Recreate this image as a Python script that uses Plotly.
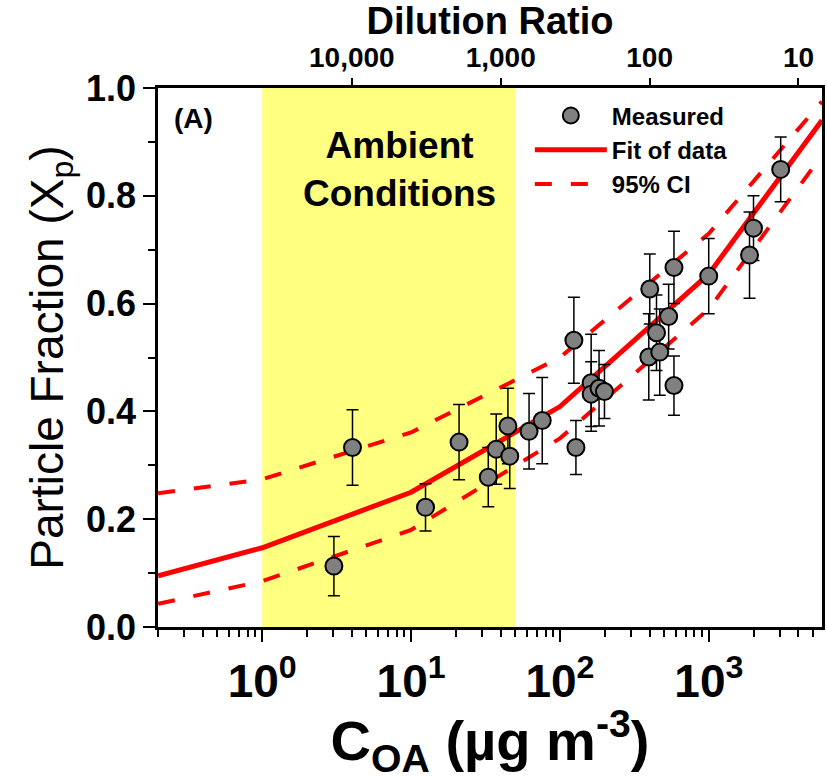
import plotly.graph_objects as go

# ---------------- data ----------------
c_oa = [3.03, 4.04, 12.5, 21, 33, 37.3, 44.7, 46, 62, 76,
        124, 128, 162, 162, 183, 199,
        395, 401, 445, 468, 537, 583, 583, 998, 1876, 1995, 3037]
xp = [0.113, 0.333, 0.222, 0.343, 0.278, 0.330, 0.373, 0.317, 0.363, 0.383,
      0.532, 0.333, 0.453, 0.432, 0.443, 0.437,
      0.501, 0.627, 0.546, 0.510, 0.576, 0.667, 0.448, 0.651, 0.690, 0.740, 0.849]
xp_err = [0.055, 0.07, 0.044, 0.07, 0.055, 0.065, 0.07, 0.06, 0.07, 0.08,
          0.08, 0.05, 0.09, 0.06, 0.07, 0.05,
          0.08, 0.065, 0.07, 0.08, 0.06, 0.067, 0.055, 0.07, 0.08, 0.06, 0.06]

fit_c = [0.2, 1, 10, 100, 1000, 5750]
fit_xp = [0.095, 0.147, 0.25, 0.409, 0.655, 0.94]
ci_upper = [0.248, 0.274, 0.361, 0.50, 0.73, 0.975]
ci_lower = [0.043, 0.085, 0.18, 0.35, 0.59, 0.875]

ambient_c = [1, 50]          # ambient conditions range of C_OA
dilution_ticks = [10000, 1000, 100, 10]
dilution_labels = ["10,000", "1,000", "100", "10"]
dilution_k = 40000           # C_OA at dilution ratio of 1

x_ticks = [1, 10, 100, 1000]
x_ticklabels = ["10<sup>0</sup>", "10<sup>1</sup>", "10<sup>2</sup>", "10<sup>3</sup>"]
x_range_log = [-0.7, 3.76]

# ---------------- styling ----------------
SANS = "Liberation Sans, Arial, sans-serif"
RED = "#FF0000"

fig = go.Figure()

# ambient shading (bottom axis layer, below data)
fig.add_trace(go.Scatter(
    x=[ambient_c[0], ambient_c[1], ambient_c[1], ambient_c[0], ambient_c[0]],
    y=[0, 0, 1, 1, 0], mode="lines", fill="toself", xaxis="x", yaxis="y",
    fillcolor="#FFFF80", line=dict(width=0), showlegend=False, hoverinfo="skip"))

# data layer on the twin C_OA axis (same scale, drawn on top of the shading)
fig.add_trace(go.Scatter(
    x=fit_c, y=ci_upper, mode="lines", name="95% CI", legendrank=3, xaxis="x2",
    line=dict(color=RED, width=4, dash="17px,19px")))
fig.add_trace(go.Scatter(
    x=fit_c, y=ci_lower, mode="lines", name="95% CI lower", showlegend=False, xaxis="x2",
    line=dict(color=RED, width=4, dash="17px,19px")))
fig.add_trace(go.Scatter(
    x=fit_c, y=fit_xp, mode="lines", name="Fit of data", legendrank=2, xaxis="x2",
    line=dict(color=RED, width=5)))
fig.add_trace(go.Scatter(
    x=c_oa, y=xp, mode="markers", name="Measured", legendrank=1, xaxis="x2",
    marker=dict(size=17, color="#808080", line=dict(color="black", width=2)),
    error_y=dict(type="data", array=xp_err, color="black", thickness=1.5, width=6)))

minor_vals = [m * 10 ** e for e in range(-1, 4) for m in range(2, 10)]

fig.update_layout(
    width=827, height=780,
    margin=dict(l=158, r=2, t=88, b=153),
    paper_bgcolor="white", plot_bgcolor="white",
    showlegend=True,
    legend=dict(x=0.56, y=0.99, xanchor="left", yanchor="top",
                bgcolor="rgba(0,0,0,0)", itemwidth=72,
                font=dict(family=SANS, size=24, color="black", weight="bold"),
                tracegroupgap=0),
    xaxis=dict(
        type="log", range=x_range_log,
        tickmode="array", tickvals=x_ticks, ticktext=x_ticklabels,
        ticks="outside", ticklen=12, tickwidth=2, tickcolor="black",
        minor=dict(tickmode="array", tickvals=minor_vals, ticks="outside",
                   ticklen=7, tickwidth=1.5, tickcolor="black", showgrid=False),
        showline=True, linewidth=2.5, linecolor="black", showgrid=False, zeroline=False,
        tickfont=dict(family=SANS, size=46, color="black", weight="bold"),
        title=dict(text="C<sub>OA</sub> (µg m<sup>-3</sup>)",
                   font=dict(family=SANS, size=56, color="black", weight="bold"),
                   standoff=4),
    ),
    xaxis2=dict(
        type="log", range=x_range_log, overlaying="x", side="top", anchor="y",
        tickmode="array", tickvals=[dilution_k / d for d in dilution_ticks],
        ticktext=dilution_labels,
        ticks="outside", ticklen=7, tickwidth=2, tickcolor="black",
        showline=True, linewidth=2.5, linecolor="black", showgrid=False, zeroline=False,
        tickfont=dict(family=SANS, size=28, color="black", weight="bold"),
        title=dict(text="Dilution Ratio",
                   font=dict(family=SANS, size=38, color="black", weight="bold"),
                   standoff=4),
    ),
    yaxis=dict(
        range=[0, 1], tickmode="array", tickvals=[0, 0.2, 0.4, 0.6, 0.8, 1.0],
        tickformat=".1f",
        ticks="outside", ticklen=12, tickwidth=2, tickcolor="black",
        minor=dict(tickmode="array", tickvals=[0.1, 0.3, 0.5, 0.7, 0.9],
                   ticks="outside", ticklen=7, tickwidth=2, tickcolor="black",
                   showgrid=False),
        showline=True, mirror=True, linewidth=2.5, linecolor="black",
        showgrid=False, zeroline=False,
        tickfont=dict(family=SANS, size=36, color="black", weight="bold"),
        title=dict(text="Particle Fraction (X<sub>p</sub>)",
                   font=dict(family=SANS, size=46, color="black"),
                   standoff=8),
    ),
    annotations=[
        dict(text="(A)", xref="paper", yref="paper", x=0.054, y=0.944,
             xanchor="center", yanchor="middle",
             showarrow=False, font=dict(family=SANS, size=28, color="black", weight="bold")),
        dict(text="Ambient<br>Conditions", xref="paper", yref="paper", x=0.364, y=0.848,
             xanchor="center", yanchor="middle",
             showarrow=False, font=dict(family=SANS, size=37, color="black", weight="bold")),
    ],
)

fig.write_html("out.html")
